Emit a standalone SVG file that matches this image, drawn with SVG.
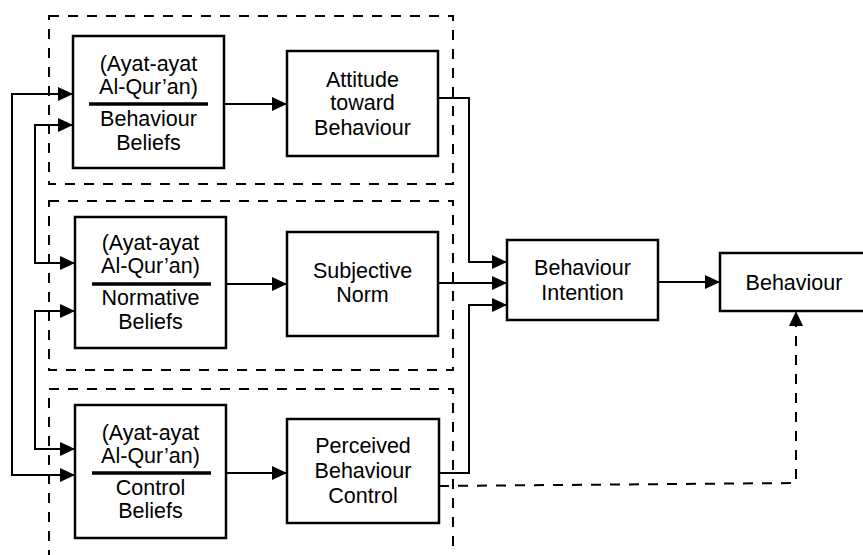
<svg xmlns="http://www.w3.org/2000/svg" width="863" height="555" viewBox="0 0 863 555">
<style>
.bx{fill:#fff;stroke:#000;stroke-width:2.5}
.grp{fill:none;stroke:#000;stroke-width:2;stroke-dasharray:10 9}
.ln{fill:none;stroke:#000;stroke-width:2}
.dl{fill:none;stroke:#000;stroke-width:2;stroke-dasharray:10 9}
.dv{stroke:#000;stroke-width:3.5}
text{font-family:"Liberation Sans",Arial,sans-serif;font-size:21.5px;fill:#000;text-anchor:middle}
</style>
<defs>
<marker id="ah" markerUnits="userSpaceOnUse" markerWidth="16" markerHeight="15" refX="15" refY="7" orient="auto" viewBox="0 0 16 15">
<path d="M0,0 L15,7 L0,14 Z" fill="#000"/>
</marker>
</defs>
<rect width="863" height="555" fill="#fff"/>
<g id="groups">
<rect class="grp" x="49" y="16" width="404" height="168"/>
<rect class="grp" x="49" y="201" width="404" height="169"/>
<path class="grp" d="M49,560 V389 H453 V560"/>
</g>
<g id="connectors">
<path class="ln" d="M224,104 H287" marker-end="url(#ah)"/>
<path class="ln" d="M226,284 H287" marker-end="url(#ah)"/>
<path class="ln" d="M226,473 H287" marker-end="url(#ah)"/>
<path class="ln" d="M438,98 H469 V262 H507" marker-end="url(#ah)"/>
<path class="ln" d="M438,283 H507" marker-end="url(#ah)"/>
<path class="ln" d="M439,473 H469 V305 H507" marker-end="url(#ah)"/>
<path class="ln" d="M658,282 H720" marker-end="url(#ah)"/>
<path class="dl" d="M439,486 L796,483 V311" marker-end="url(#ah)"/>
<path class="ln" d="M12,475 V94 H73" marker-end="url(#ah)"/>
<path class="ln" d="M12,94 V475 H75" marker-end="url(#ah)"/>
<path class="ln" d="M35,263 V125 H73" marker-end="url(#ah)"/>
<path class="ln" d="M35,125 V263 H75" marker-end="url(#ah)"/>
<path class="ln" d="M35,449 V311 H75" marker-end="url(#ah)"/>
<path class="ln" d="M35,311 V449 H75" marker-end="url(#ah)"/>
</g>
<g id="behaviour-beliefs">
<rect class="bx" x="73" y="36" width="151" height="132"/>
<text x="148.5" y="71">(Ayat-ayat</text>
<text x="148.5" y="94">Al-Qur’an)</text>
<line class="dv" x1="89" y1="104" x2="208" y2="104"/>
<text x="148.5" y="126">Behaviour</text>
<text x="148.5" y="150">Beliefs</text>
</g>
<g id="normative-beliefs">
<rect class="bx" x="75" y="217" width="151" height="131"/>
<text x="150.5" y="250">(Ayat-ayat</text>
<text x="150.5" y="273">Al-Qur’an)</text>
<line class="dv" x1="92" y1="284" x2="211" y2="284"/>
<text x="150.5" y="305">Normative</text>
<text x="150.5" y="329">Beliefs</text>
</g>
<g id="control-beliefs">
<rect class="bx" x="75" y="405" width="151" height="133"/>
<text x="150.5" y="440">(Ayat-ayat</text>
<text x="150.5" y="463">Al-Qur’an)</text>
<line class="dv" x1="92" y1="473" x2="211" y2="473"/>
<text x="150.5" y="495">Control</text>
<text x="150.5" y="518">Beliefs</text>
</g>
<g id="attitude">
<rect class="bx" x="287" y="51" width="151" height="105"/>
<text x="362.5" y="87">Attitude</text>
<text x="362.5" y="110">toward</text>
<text x="362.5" y="135">Behaviour</text>
</g>
<g id="subjective-norm">
<rect class="bx" x="287" y="232" width="151" height="104"/>
<text x="362.5" y="278">Subjective</text>
<text x="362.5" y="302">Norm</text>
</g>
<g id="perceived-control">
<rect class="bx" x="287" y="419" width="152" height="104"/>
<text x="363" y="453">Perceived</text>
<text x="363" y="478">Behaviour</text>
<text x="363" y="503">Control</text>
</g>
<g id="behaviour-intention">
<rect class="bx" x="507" y="240" width="151" height="80"/>
<text x="582.5" y="275">Behaviour</text>
<text x="582.5" y="300">Intention</text>
</g>
<g id="behaviour">
<rect class="bx" x="720" y="253" width="150" height="58"/>
<text x="794" y="290">Behaviour</text>
</g>
</svg>
